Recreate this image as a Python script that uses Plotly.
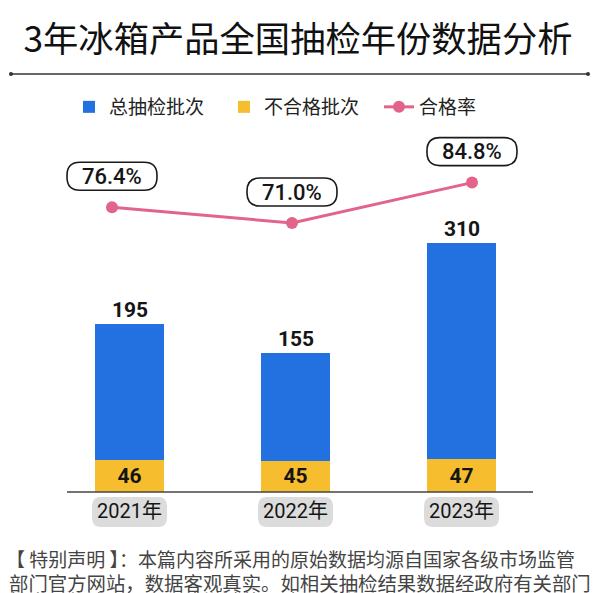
import plotly.graph_objects as go

# ---------------- data ----------------
years = ["2021年", "2022年", "2023年"]
total_batches = [195, 155, 310]      # 总抽检批次
fail_batches = [46, 45, 47]          # 不合格批次
pass_rate = [76.4, 71.0, 84.8]       # 合格率 (%)
rate_labels = ["76.4%", "71.0%", "84.8%"]

title_text = "3年冰箱产品全国抽检年份数据分析"
footer_lines = [
    "【 特别声明 】：本篇内容所采用的原始数据均源自国家各级市场监管",
    "部门官方网站，数据客观真实。如相关抽检结果数据经政府有关部门",
    "核实且依法予以变更或撤销的，请及时联系本刊。",
]

# ---------------- style ----------------
OFF = 8                      # browser body margin
W, H = 600 - OFF, 593 - OFF  # figure size so the page is filled exactly
BLUE = "#2371E1"
YELLOW = "#F6BE2F"
PINK = "#E2648A"
TXT = "#151515"
FONT = "Roboto, 'Noto Sans CJK SC', sans-serif"
CJK = "'Noto Sans CJK SC', sans-serif"


def PX(x):
    """page pixel x -> paper x"""
    return (x - OFF) / W


def PY(y):
    """page pixel y (from top) -> paper y"""
    return 1 - (y - OFF) / H


def pill(w, h, r, cy):
    x0, x1 = -w / 2, w / 2
    y0, y1 = cy - h / 2, cy + h / 2
    return (f"M{x0 + r},{y0} L{x1 - r},{y0} Q{x1},{y0} {x1},{y0 + r} "
            f"L{x1},{y1 - r} Q{x1},{y1} {x1 - r},{y1} L{x0 + r},{y1} "
            f"Q{x0},{y1} {x0},{y1 - r} L{x0},{y0 + r} Q{x0},{y0} {x0 + r},{y0} Z")


fig = go.Figure()

fig.add_trace(go.Bar(
    x=years, y=fail_batches, name="不合格批次", marker=dict(color=YELLOW, line=dict(width=0)),
    width=0.42, text=[str(v) for v in fail_batches], textposition="inside",
    insidetextanchor="middle", textangle=0,
    textfont=dict(family=FONT, size=21, color=TXT, weight="bold"),
    legendrank=2, hoverinfo="skip",
))
fig.add_trace(go.Bar(
    x=years, y=total_batches, name="总抽检批次", marker=dict(color=BLUE, line=dict(width=0)),
    width=0.42, legendrank=1, hoverinfo="skip",
))
fig.add_trace(go.Scatter(
    x=years, y=pass_rate, name="合格率", xaxis="x2", yaxis="y2",
    mode="lines+markers", line=dict(color=PINK, width=3),
    marker=dict(color=PINK, size=12), legendrank=3, hoverinfo="skip",
))

annotations = []
shapes = []

# totals above bars
for yr, f, t in zip(years, fail_batches, total_batches):
    annotations.append(dict(
        x=yr, y=f + t, xref="x", yref="y", text=str(t), showarrow=False,
        yanchor="middle", yshift=14,
        font=dict(family=FONT, size=21, color=TXT, weight="bold"),
    ))

# pass-rate pills
for yr, r, lab in zip(years, pass_rate, rate_labels):
    shapes.append(dict(
        type="path", xref="x2", yref="y2", xsizemode="pixel", ysizemode="pixel",
        xanchor=yr, yanchor=r, path=pill(90, 28, 13, 31),
        line=dict(color="#1a1a1a", width=1.6), fillcolor="white", layer="above",
    ))
    annotations.append(dict(
        x=yr, y=r, xref="x2", yref="y2", text=lab, showarrow=False,
        yanchor="middle", yshift=31,
        font=dict(family=FONT, size=22, color=TXT, weight=500),
    ))

# category label boxes
for yr in years:
    shapes.append(dict(
        type="path", xref="x", yref="y", xsizemode="pixel", ysizemode="pixel",
        xanchor=yr, yanchor=0, path=pill(75, 30, 9, -20),
        line=dict(width=0), fillcolor="#DCDCDC", layer="above",
    ))
    annotations.append(dict(
        x=yr, y=0, xref="x", yref="y", text=yr, showarrow=False,
        yanchor="middle", yshift=-19,
        font=dict(family=FONT, size=20, color=TXT),
    ))

# baseline
shapes.append(dict(type="line", xref="x", yref="y", x0=-0.3765, x1=2.431, y0=0, y1=0,
                   line=dict(color="#444444", width=1.5), layer="above"))

# header rule with end dots
ry = PY(74)
shapes.append(dict(type="line", xref="paper", yref="paper", x0=PX(11), x1=PX(588),
                   y0=ry, y1=ry, line=dict(color="#333333", width=1.3)))
for xd in (11, 588):
    shapes.append(dict(type="circle", xref="paper", yref="paper",
                       x0=PX(xd - 2), x1=PX(xd + 2), y0=ry - 2 / H, y1=ry + 2 / H,
                       fillcolor="#333333", line=dict(width=0)))

# footer lines
for i, (line, yc) in enumerate(zip(footer_lines, (558, 582, 600))):
    annotations.append(dict(
        x=PX(4 if i == 0 else 7), y=PY(yc), xref="paper", yref="paper", text=line,
        showarrow=False, xanchor="left", yanchor="middle", align="left",
        font=dict(family=CJK, size=19.0 if i == 0 else 19.4, color="#444444"),
    ))

fig.update_layout(
    width=W, height=H, margin=dict(l=0, r=0, t=0, b=0),
    paper_bgcolor="white", plot_bgcolor="white",
    barmode="stack", showlegend=True,
    title=dict(text=title_text, x=PX(298), xanchor="center", y=PY(40), yanchor="middle",
               font=dict(family=CJK, size=35.3, color="#111111")),
    legend=dict(orientation="h", x=PX(69), xanchor="left", y=PY(107), yanchor="middle",
                font=dict(family=CJK, size=19, color="#222222"), traceorder="normal",
                bgcolor="rgba(0,0,0,0)", entrywidth=110, itemclick=False),
    xaxis=dict(type="category", categoryorder="array", categoryarray=years,
               range=[-0.7319, 2.8343], visible=False, domain=[0, 1]),
    yaxis=dict(range=[-144.9, 694.4], visible=False, domain=[0, 1]),
    xaxis2=dict(type="category", categoryorder="array", categoryarray=years,
                overlaying="x", range=[-0.5778, 2.7111], visible=False),
    yaxis2=dict(overlaying="y", range=[-55.3, 144.4], visible=False),
    shapes=shapes, annotations=annotations,
)

fig.write_html("out.html")
